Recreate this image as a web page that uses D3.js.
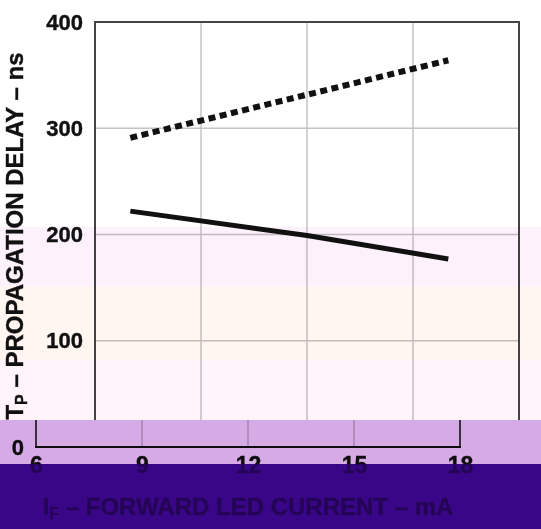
<!DOCTYPE html>
<html><head><meta charset="utf-8">
<script src="https://cdn.jsdelivr.net/npm/d3@7"></script>
<style>html,body{margin:0;padding:0;background:#fff}svg{display:block}</style>
</head><body>
<script>
const xTicks = [6, 9, 12, 15, 18];
const yTicks = [0, 100, 200, 300, 400];
const solidX = [7, 12, 16];
const solidY = [222, 199, 177];
const dottedX = [7, 16];
const dottedY = [291, 364];
const xTitle = ["I", "F", " – FORWARD LED CURRENT – mA"];
const yTitle = ["T", "P", " – PROPAGATION DELAY – ns"];

const W = 541, H = 529, CUT = 420, SHIFT = -59;
const svg = d3.select("body").append("svg").attr("width", W).attr("height", H);
const x = d3.scaleLinear().domain([6, 18]).range([95, 519]);
const y = d3.scaleLinear().domain([0, 400]).range([447, 22]);
const font = "'Liberation Sans', Arial, Helvetica, sans-serif";

function styleText(sel, size) {
  sel.attr("font-family", font).attr("font-weight", "bold").attr("font-size", size)
    .attr("fill", "#111").attr("stroke", "#111").attr("stroke-width", 0.4);
}

function drawChart(g, top) {
  g.append("rect").attr("x", -100).attr("y", 0).attr("width", W + 200).attr("height", H).attr("fill", "#fff");
  g.selectAll(".vg").data(xTicks.slice(1, -1)).enter().append("line")
    .attr("x1", d => x(d)).attr("x2", d => x(d)).attr("y1", y(400)).attr("y2", y(0))
    .attr("stroke", "#c4c4c4").attr("stroke-width", 1.5);
  g.selectAll(".hg").data(yTicks.slice(1, -1)).enter().append("line")
    .attr("y1", d => y(d)).attr("y2", d => y(d)).attr("x1", x(6)).attr("x2", x(18))
    .attr("stroke", "#c4c4c4").attr("stroke-width", 1.5);
  g.append("path").attr("d", `M${x(6)},${y(0)}V${y(400)}H${x(18)}V${y(0)}`)
    .attr("fill", "none").attr("stroke", "#444").attr("stroke-width", 2);
  g.append("line").attr("x1", x(6) - 1).attr("x2", x(18) + 1).attr("y1", y(0)).attr("y2", y(0))
    .attr("stroke", "#111").attr("stroke-width", 2);

  if (!top) {
    const xa = d3.axisBottom(x).tickValues(xTicks).tickSize(0).tickPadding(10);
    const xg = g.append("g").attr("transform", `translate(0,${y(0)})`).call(xa);
    xg.select(".domain").remove();
    styleText(xg.selectAll("text").attr("dy", "0.71em"), 23);
  }
  const yVals = yTicks.filter(v => top ? y(v) < CUT : y(v) >= CUT);
  const ya = d3.axisLeft(y).tickValues(yVals).tickSize(0).tickPadding(12);
  const yg = g.append("g").attr("transform", `translate(${x(6)},0)`).call(ya);
  yg.select(".domain").remove();
  styleText(yg.selectAll("text"), 22);

  const line = d3.line().x(d => x(d[0])).y(d => y(d[1]));
  g.append("path").datum(solidX.map((v, i) => [v, solidY[i]])).attr("d", line)
    .attr("fill", "none").attr("stroke", "#111").attr("stroke-width", 5);
  g.append("path").datum(dottedX.map((v, i) => [v, dottedY[i]])).attr("d", line)
    .attr("fill", "none").attr("stroke", "#111").attr("stroke-width", 6)
    .attr("stroke-dasharray", "7,4.5");

  if (!top) {
    const xt = g.append("text").attr("x", (x(6) + x(18)) / 2).attr("y", 515).attr("text-anchor", "middle");
    styleText(xt, 24);
    xt.append("tspan").text(xTitle[0]);
    xt.append("tspan").text(xTitle[1]).attr("font-size", 16).attr("dy", 4);
    xt.append("tspan").text(xTitle[2]).attr("dy", -4);
  } else {
    const yt = g.append("text").attr("transform", "translate(23,236) rotate(-90)").attr("text-anchor", "middle");
    styleText(yt, 24);
    yt.append("tspan").text(yTitle[0]);
    yt.append("tspan").text(yTitle[1]).attr("font-size", 16).attr("dy", 4);
    yt.append("tspan").text(yTitle[2]).attr("dy", -4);
  }
}

const defs = svg.append("defs");
defs.append("clipPath").attr("id", "ctop").append("rect").attr("x", 0).attr("y", 0).attr("width", W).attr("height", CUT);
defs.append("clipPath").attr("id", "cbot").append("rect").attr("x", 0).attr("y", CUT).attr("width", W).attr("height", H - CUT);

drawChart(svg.append("g").attr("clip-path", "url(#ctop)"), true);
drawChart(svg.append("g").attr("clip-path", "url(#cbot)").append("g").attr("transform", `translate(${SHIFT},0)`), false);

const bands = [
  [227, 286, "#fdf1fc"],
  [286, 360, "#fff5f1"],
  [360, 420, "#fff4fa"],
  [420, 464, "#d5aae5"],
  [464, 529, "#3a0688"]
];
svg.selectAll(".band").data(bands).enter().append("rect")
  .attr("x", 0).attr("width", W).attr("y", d => d[0]).attr("height", d => d[1] - d[0])
  .attr("fill", d => d[2]).style("mix-blend-mode", "multiply");
svg.append("rect").attr("x", 0).attr("width", W).attr("y", 464).attr("height", H - 464)
  .attr("fill", "#3a0688").attr("opacity", 0.6);
</script>
</body></html>
